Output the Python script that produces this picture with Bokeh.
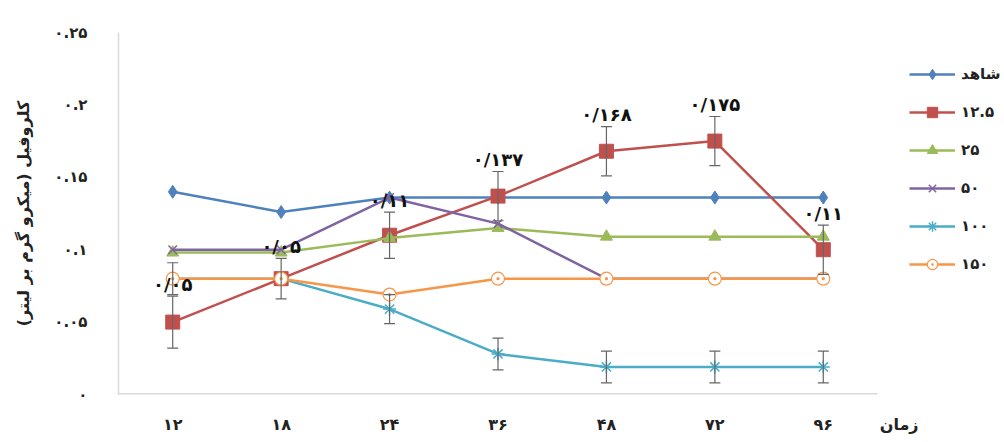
from bokeh.plotting import figure
from bokeh.models import ColumnDataSource, Whisker, TeeHead, Legend, LegendItem, FixedTicker, Range1d
from bokeh.embed import file_html
from bokeh.resources import INLINE
from bokeh.core.properties import value

# ---------------- data ----------------
times = ["۱۲", "۱۸", "۲۴", "۳۶", "۴۸", "۷۲", "۹۶"]
series_names = ["شاهد", "۱۲.۵", "۲۵", "۵۰", "۱۰۰", "۱۵۰"]
control = [0.140, 0.126, 0.136, 0.136, 0.136, 0.136, 0.136]
c12_5 = [0.050, 0.080, 0.110, 0.137, 0.168, 0.175, 0.100]
c25 = [0.098, 0.098, 0.108, 0.115, 0.109, 0.109, 0.109]
c50 = [0.100, 0.100, 0.136, 0.118, 0.080, 0.080, 0.080]
c100 = [0.080, 0.080, 0.059, 0.028, 0.019, 0.019, 0.019]
c150 = [0.080, 0.080, 0.069, 0.080, 0.080, 0.080, 0.080]
err_12_5 = [0.018, 0.014, 0.016, 0.017, 0.017, 0.017, 0.017]
err_100 = [0.0, 0.0, 0.010, 0.011, 0.011, 0.011, 0.011]
err_150 = [0.011, 0.0, 0.0, 0.0, 0.0, 0.0, 0.0]
value_labels = ["۰/۰۵", "۰/۰۵", "۰/۱۱", "۰/۱۳۷", "۰/۱۶۸", "۰/۱۷۵", "۰/۱۱"]
y_ticks = [0, 0.05, 0.1, 0.15, 0.2, 0.25]
y_tick_labels = ["۰", "۰.۰۵", "۰.۱", "۰.۱۵", "۰.۲", "۰.۲۵"]
y_title = "کلروفیل (میکرو گرم بر لیتر)"
x_title = "زمان"

FONT = "DejaVu Sans"
W, H = 1000, 440
LEFT, TOP, BOTTOM = 118, 32, 46
xpos = list(range(len(times)))          # category slots on the x scale
CAT_PX = (877 - LEFT) / len(times)      # width of one category slot, px
x_end = -0.5 + (W - LEFT) / CAT_PX      # frame extends right to hold the legend
x_title_pos = len(times) - 0.3

p = figure(width=W, height=H, x_range=Range1d(-0.5, x_end), y_range=Range1d(0, 0.25),
           output_backend="svg", toolbar_location=None,
           min_border_left=LEFT, min_border_right=0,
           min_border_top=TOP, min_border_bottom=BOTTOM)
p.outline_line_color = None
p.grid.grid_line_color = None
p.background_fill_color = "white"

# axes
p.yaxis.ticker = FixedTicker(ticks=y_ticks)
p.yaxis.major_label_overrides = {t: l for t, l in zip(y_ticks, y_tick_labels)}
p.xaxis.ticker = FixedTicker(ticks=xpos + [x_title_pos])
ovr = {i: t for i, t in zip(xpos, times)}
ovr[x_title_pos] = x_title
p.xaxis.major_label_overrides = ovr
for ax in (p.xaxis[0], p.yaxis[0]):
    ax.axis_line_color = "#d9d9d9"
    ax.axis_line_width = 1.5
    ax.major_tick_line_color = None
    ax.minor_tick_line_color = None
    ax.major_label_text_font = FONT
    ax.major_label_text_color = "#222222"
p.xaxis.axis_line_color = None
p.yaxis.major_label_text_font_size = "15px"
p.yaxis.major_label_text_font_style = "bold"
p.yaxis.major_label_standoff = 25
p.xaxis.major_label_text_font_size = "16px"
p.xaxis.major_label_text_font_style = "bold"
p.xaxis.major_label_standoff = 14
p.yaxis.axis_label = y_title
p.yaxis.axis_label_text_font = FONT
p.yaxis.axis_label_text_font_size = "16px"
p.yaxis.axis_label_text_font_style = "bold"
p.yaxis.axis_label_standoff = 18
p.yaxis.axis_label_text_color = "#222222"

# baseline of the category area only
p.segment(x0=[xpos[0] - 0.5], x1=[xpos[-1] + 0.5], y0=[0], y1=[0],
          line_color="#d9d9d9", line_width=3)

colors = ["#4F81BD", "#C0504D", "#9BBB59", "#8064A2", "#4BACC6", "#F79646"]
markers = ["diamond", "square", "triangle", "x", "asterisk", "circle_dot"]
sizes = [13, 14, 12, 12, 13, 13]
all_series = [control, c12_5, c25, c50, c100, c150]

# error bars
def add_err(vals, errs):
    xs = [x for x, e in zip(xpos, errs) if e > 0]
    up = [v + e for v, e in zip(vals, errs) if e > 0]
    lo = [v - e for v, e in zip(vals, errs) if e > 0]
    src = ColumnDataSource(dict(x=xs, upper=up, lower=lo))
    w = Whisker(source=src, base="x", upper="upper", lower="lower",
                line_color="#666666", line_width=1.2, level="glyph",
                upper_head=TeeHead(size=11, line_color="#666666", line_width=1.2),
                lower_head=TeeHead(size=11, line_color="#666666", line_width=1.2))
    p.add_layout(w)

items = []
for name, vals, col, mk, sz in zip(series_names, all_series, colors, markers, sizes):
    src = ColumnDataSource(dict(x=xpos, y=vals))
    ln = p.line("x", "y", source=src, line_color=col, line_width=2.5)
    if mk == "circle_dot":
        sc = p.scatter("x", "y", source=src, marker=mk, size=sz, fill_color="white",
                       line_color=col, line_width=1.2)
    elif mk in ("x", "asterisk"):
        sc = p.scatter("x", "y", source=src, marker=mk, size=sz, line_color=col, line_width=1.5)
    else:
        sc = p.scatter("x", "y", source=src, marker=mk, size=sz, fill_color=col, line_color=col)
    items.append(LegendItem(label=name, renderers=[ln, sc]))
    if name == series_names[1]:
        add_err(vals, err_12_5)
    if name == series_names[4]:
        add_err(vals, err_100)
    if name == series_names[5]:
        add_err(vals, err_150)

# value labels above the 12.5 series error bars
lab_src = ColumnDataSource(dict(x=xpos, y=[v + e for v, e in zip(c12_5, err_12_5)], t=value_labels))
p.text("x", "y", text="t", source=lab_src, text_font=value(FONT), text_font_size="18px",
       text_font_style="bold", text_color="#111111", text_align="center",
       text_baseline="middle", y_offset=-12)

legend = Legend(items=items, location=(791, 117), orientation="vertical",
                glyph_width=46, glyph_height=26, label_height=26, spacing=12,
                padding=0, margin=0, label_standoff=6,
                label_text_font=FONT, label_text_font_size="15px",
                label_text_font_style="bold", label_text_color="#222222",
                border_line_color=None, background_fill_alpha=0)
p.add_layout(legend)

open("out.html", "w").write(file_html(p, INLINE))
